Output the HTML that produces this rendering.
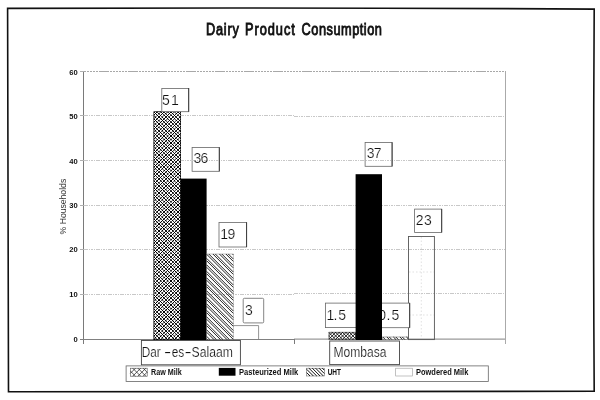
<!DOCTYPE html>
<html>
<head>
<meta charset="utf-8">
<title>Dairy Product Consumption</title>
<style>
html,body{margin:0;padding:0;background:#fff;}
body{width:600px;height:400px;overflow:hidden;}
svg{display:block;will-change:transform;}
text{font-family:"Liberation Sans",sans-serif;fill:#111;}
.t{font-size:15.6px;stroke:#111;stroke-width:0.85px;}
.tick{font-size:7.6px;font-weight:bold;fill:#222;}
.val{font-size:14px;fill:#111;stroke:#fff;stroke-width:0.2px;}
.cat{font-size:14px;fill:#111;stroke:#fff;stroke-width:0.2px;}
.leg{font-size:8.7px;font-weight:bold;fill:#222;}
.yl{font-size:8.4px;fill:#333;}
</style>
</head>
<body>
<svg width="600" height="400" viewBox="0 0 600 400">
<defs>
<filter id="thr" x="0" y="0" width="1" height="1" color-interpolation-filters="sRGB"><feComponentTransfer><feFuncR type="linear" slope="2.2" intercept="-0.55"/><feFuncG type="linear" slope="2.2" intercept="-0.55"/><feFuncB type="linear" slope="2.2" intercept="-0.55"/></feComponentTransfer></filter>
<clipPath id="c05"><rect x="382" y="300" width="40" height="30"/></clipPath>
</defs>
<rect width="600" height="400" fill="#fff"/>
<!-- outer frame -->
<path d="M7.6,8.4Q300,7.3 594.2,9.1Q593,200 594.2,391.3L8.5,391.8Z" fill="none" stroke="#111" stroke-width="1.6" stroke-linejoin="miter"/>
<!-- title -->
<text class="t" transform="translate(0,35) scale(0.82,1)"><tspan x="251.2" textLength="40.0" lengthAdjust="spacing">Dairy</tspan> <tspan x="298.8" textLength="60.7" lengthAdjust="spacing">Product</tspan> <tspan x="367.8" textLength="98.0" lengthAdjust="spacing">Consumption</tspan></text>
<!-- gridlines -->
<g stroke="#c8c8c8" stroke-width="1" stroke-dasharray="1.6 0.8" shape-rendering="crispEdges">
<line x1="84" x2="505" y1="71.5" y2="71.5" stroke="#a8a8a8" stroke-dasharray="2.2 0.7"/>
<line x1="84" x2="294" y1="115.5" y2="115.5"/>
<line x1="294" x2="505" y1="116.5" y2="116.5"/>
<line x1="84" x2="505" y1="160.5" y2="160.5"/>
<line x1="84" x2="505" y1="205.5" y2="205.5"/>
<line x1="84" x2="505" y1="249.5" y2="249.5"/>
<line x1="84" x2="294" y1="294.5" y2="294.5"/>
<line x1="294" x2="505" y1="293.5" y2="293.5"/>
</g>
<!-- axes -->
<g stroke="#7a7a7a" stroke-width="1" shape-rendering="crispEdges">
<line x1="83.5" x2="83.5" y1="71" y2="343.5"/>
<line x1="80" x2="294" y1="339.5" y2="339.5" stroke="#808080"/>
<line x1="294" x2="506" y1="339.1" y2="339.1" stroke="#808080" shape-rendering="auto"/>
<line x1="294.5" x2="294.5" y1="339" y2="343.5"/>
</g>
<g stroke="#aaa" stroke-width="1" shape-rendering="crispEdges">
<line x1="505.5" x2="505.5" y1="71" y2="343.5"/>
</g>
<g stroke="#b0b0b0" stroke-width="1" shape-rendering="crispEdges">
<line x1="80" x2="84" y1="71.5" y2="71.5"/>
<line x1="80" x2="84" y1="115.5" y2="115.5"/>
<line x1="80" x2="84" y1="160.5" y2="160.5"/>
<line x1="80" x2="84" y1="205.5" y2="205.5"/>
<line x1="80" x2="84" y1="249.5" y2="249.5"/>
<line x1="80" x2="84" y1="294.5" y2="294.5"/>
</g>
<!-- tick labels -->
<g class="tick" text-anchor="end">
<text x="77.8" y="74.6">60</text>
<text x="77.8" y="118.9">50</text>
<text x="77.8" y="163.5">40</text>
<text x="77.8" y="208.3">30</text>
<text x="77.8" y="252.3">20</text>
<text x="77.8" y="296.9">10</text>
<text x="77.8" y="342.3">0</text>
</g>
<!-- y label -->
<text class="yl" transform="translate(65.6,234.4) rotate(-90)" textLength="55.6" lengthAdjust="spacingAndGlyphs">% Households</text>
<!-- bars: Dar-es-Salaam -->
<g filter="url(#thr)"><rect x="153.9" y="111.8" width="26.9" height="227.9" fill="#fff" stroke="#222" stroke-width="0.7"/>
<path d="M153.9,336.2L157.3,339.7M153.9,332.8L160.8,339.7M153.9,329.4L164.2,339.7M153.9,325.9L167.7,339.7M153.9,322.5L171.1,339.7M153.9,319.0L174.6,339.7M153.9,315.6L178.0,339.7M153.9,312.1L180.8,339.0M153.9,308.7L180.8,335.6M153.9,305.2L180.8,332.1M153.9,301.8L180.8,328.7M153.9,298.3L180.8,325.2M153.9,294.9L180.8,321.8M153.9,291.4L180.8,318.3M153.9,288.0L180.8,314.9M153.9,284.5L180.8,311.4M153.9,281.1L180.8,308.0M153.9,277.6L180.8,304.5M153.9,274.2L180.8,301.1M153.9,270.7L180.8,297.6M153.9,267.3L180.8,294.2M153.9,263.8L180.8,290.7M153.9,260.4L180.8,287.3M153.9,256.9L180.8,283.8M153.9,253.5L180.8,280.4M153.9,250.0L180.8,276.9M153.9,246.6L180.8,273.5M153.9,243.1L180.8,270.0M153.9,239.7L180.8,266.6M153.9,236.2L180.8,263.1M153.9,232.8L180.8,259.7M153.9,229.3L180.8,256.2M153.9,225.9L180.8,252.8M153.9,222.4L180.8,249.3M153.9,219.0L180.8,245.9M153.9,215.5L180.8,242.4M153.9,212.1L180.8,239.0M153.9,208.6L180.8,235.5M153.9,205.2L180.8,232.1M153.9,201.7L180.8,228.6M153.9,198.3L180.8,225.2M153.9,194.8L180.8,221.7M153.9,191.4L180.8,218.3M153.9,187.9L180.8,214.8M153.9,184.5L180.8,211.4M153.9,181.0L180.8,207.9M153.9,177.6L180.8,204.5M153.9,174.1L180.8,201.0M153.9,170.7L180.8,197.6M153.9,167.2L180.8,194.1M153.9,163.8L180.8,190.7M153.9,160.3L180.8,187.2M153.9,156.9L180.8,183.8M153.9,153.4L180.8,180.3M153.9,150.0L180.8,176.9M153.9,146.5L180.8,173.4M153.9,143.1L180.8,170.0M153.9,139.6L180.8,166.5M153.9,136.2L180.8,163.1M153.9,132.7L180.8,159.6M153.9,129.3L180.8,156.2M153.9,125.8L180.8,152.7M153.9,122.4L180.8,149.3M153.9,118.9L180.8,145.8M153.9,115.5L180.8,142.4M153.9,112.0L180.8,138.9M157.1,111.8L180.8,135.5M160.6,111.8L180.8,132.0M164.0,111.8L180.8,128.6M167.5,111.8L180.8,125.1M170.9,111.8L180.8,121.7M174.4,111.8L180.8,118.2M177.8,111.8L180.8,114.8M157.3,111.8L153.9,115.2M160.8,111.8L153.9,118.7M164.2,111.8L153.9,122.1M167.7,111.8L153.9,125.6M171.1,111.8L153.9,129.0M174.6,111.8L153.9,132.5M178.0,111.8L153.9,135.9M180.8,112.5L153.9,139.4M180.8,115.9L153.9,142.8M180.8,119.4L153.9,146.3M180.8,122.8L153.9,149.7M180.8,126.3L153.9,153.2M180.8,129.7L153.9,156.6M180.8,133.2L153.9,160.1M180.8,136.6L153.9,163.5M180.8,140.1L153.9,167.0M180.8,143.5L153.9,170.4M180.8,147.0L153.9,173.9M180.8,150.4L153.9,177.3M180.8,153.9L153.9,180.8M180.8,157.3L153.9,184.2M180.8,160.8L153.9,187.7M180.8,164.2L153.9,191.1M180.8,167.7L153.9,194.6M180.8,171.1L153.9,198.0M180.8,174.6L153.9,201.5M180.8,178.0L153.9,204.9M180.8,181.5L153.9,208.4M180.8,184.9L153.9,211.8M180.8,188.4L153.9,215.3M180.8,191.8L153.9,218.7M180.8,195.3L153.9,222.2M180.8,198.7L153.9,225.6M180.8,202.2L153.9,229.1M180.8,205.6L153.9,232.5M180.8,209.1L153.9,236.0M180.8,212.5L153.9,239.4M180.8,216.0L153.9,242.9M180.8,219.4L153.9,246.3M180.8,222.9L153.9,249.8M180.8,226.3L153.9,253.2M180.8,229.8L153.9,256.7M180.8,233.2L153.9,260.1M180.8,236.7L153.9,263.6M180.8,240.1L153.9,267.0M180.8,243.6L153.9,270.5M180.8,247.0L153.9,273.9M180.8,250.5L153.9,277.4M180.8,253.9L153.9,280.8M180.8,257.4L153.9,284.3M180.8,260.8L153.9,287.7M180.8,264.3L153.9,291.2M180.8,267.7L153.9,294.6M180.8,271.2L153.9,298.1M180.8,274.6L153.9,301.5M180.8,278.1L153.9,305.0M180.8,281.5L153.9,308.4M180.8,285.0L153.9,311.9M180.8,288.4L153.9,315.3M180.8,291.9L153.9,318.8M180.8,295.3L153.9,322.2M180.8,298.8L153.9,325.7M180.8,302.2L153.9,329.1M180.8,305.7L153.9,332.6M180.8,309.1L153.9,336.0M180.8,312.6L153.9,339.5M180.8,316.0L157.1,339.7M180.8,319.5L160.6,339.7M180.8,322.9L164.0,339.7M180.8,326.4L167.5,339.7M180.8,329.8L170.9,339.7M180.8,333.3L174.4,339.7M180.8,336.7L177.8,339.7" stroke="#000" stroke-width="0.84" fill="none"/></g>
<rect x="180.6" y="178.6" width="26" height="161.4" fill="#000"/>
<rect x="206.6" y="254" width="26.6" height="85.7" fill="none" stroke="#888" stroke-width="0.5"/>
<path d="M206.6,338.7L207.6,339.7M206.6,332.2L214.1,339.7M206.6,325.7L220.6,339.7M206.6,319.2L227.1,339.7M206.6,312.7L233.2,339.3M206.6,306.2L233.2,332.8M206.6,299.7L233.2,326.3M206.6,293.2L233.2,319.8M206.6,286.7L233.2,313.3M206.6,280.2L233.2,306.8M206.6,273.7L233.2,300.3M206.6,267.2L233.2,293.8M206.6,260.7L233.2,287.3M206.6,254.2L233.2,280.8M212.9,254.0L233.2,274.3M219.4,254.0L233.2,267.8M225.9,254.0L233.2,261.3M232.4,254.0L233.2,254.8M206.6,336.3L210.0,339.7M206.6,329.8L216.5,339.7M206.6,323.3L223.0,339.7M206.6,316.8L229.5,339.7M206.6,310.3L233.2,336.9M206.6,303.8L233.2,330.4M206.6,297.3L233.2,323.9M206.6,290.8L233.2,317.4M206.6,284.3L233.2,310.9M206.6,277.8L233.2,304.4M206.6,271.3L233.2,297.9M206.6,264.8L233.2,291.4M206.6,258.3L233.2,284.9M208.8,254.0L233.2,278.4M215.3,254.0L233.2,271.9M221.8,254.0L233.2,265.4M228.3,254.0L233.2,258.9" stroke="#222" stroke-width="1.0" fill="none"/>
<path d="M233.2,325.6H258.6V339.5" fill="none" stroke="#777" stroke-width="0.8"/>
<!-- bars: Mombasa -->
<rect x="329" y="332.2" width="26.6" height="7.4" fill="#fff" stroke="#222" stroke-width="0.6"/>
<path d="M329.0,336.2L332.4,339.6M329.0,332.7L335.9,339.6M331.9,332.2L339.4,339.6M335.4,332.2L342.8,339.6M338.8,332.2L346.2,339.6M342.3,332.2L349.7,339.6M345.7,332.2L353.1,339.6M349.2,332.2L355.6,338.6M352.6,332.2L355.6,335.2M329.0,332.2L329.0,332.2M332.5,332.2L329.0,335.7M335.9,332.2L329.0,339.1M339.4,332.2L332.0,339.6M342.8,332.2L335.4,339.6M346.3,332.2L338.9,339.6M349.7,332.2L342.3,339.6M353.2,332.2L345.8,339.6M355.6,333.2L349.2,339.6M355.6,336.7L352.7,339.6" stroke="#000" stroke-width="0.84" fill="none"/>
<rect x="382" y="337" width="26" height="2.6" fill="#fff" stroke="#555" stroke-width="0.5"/>
<path d="M382.0,338.6L383.0,339.6M386.9,337.0L389.5,339.6M393.4,337.0L396.0,339.6M399.9,337.0L402.5,339.6M406.4,337.0L408.0,338.6M382.8,337.0L385.4,339.6M389.3,337.0L391.9,339.6M395.8,337.0L398.4,339.6M402.3,337.0L404.9,339.6" stroke="#222" stroke-width="1.0" fill="none"/>
<rect x="408.5" y="236.5" width="25.9" height="103.1" fill="none" stroke="#555" stroke-width="0.9"/>
<g stroke="#ccc" stroke-width="0.6" stroke-dasharray="1.5 2">
<line x1="421.3" x2="421.3" y1="237" y2="339"/>
<line x1="409" x2="434" y1="272" y2="272"/>
<line x1="409" x2="434" y1="315" y2="315"/>
</g>
<!-- value labels -->
<g fill="#fff" stroke="#666" stroke-width="0.8">
<rect x="161.8" y="88.4" width="26.9" height="23.3"/>
<rect x="192.1" y="147.5" width="27.2" height="23.8"/>
<rect x="219" y="222.4" width="27.6" height="24.6"/>
<rect x="243.2" y="298.3" width="20.5" height="24.6" rx="1.2"/>
<rect x="325.4" y="303.1" width="40" height="24.5"/>
<rect x="370" y="303.1" width="39.7" height="24.6"/>
<rect x="365.1" y="142.4" width="27" height="23.9"/>
<rect x="414.6" y="209.1" width="27.1" height="23.3"/>
</g>
<g stroke="#333" stroke-width="0.9">
<line x1="188.7" x2="188.7" y1="88" y2="111.7"/>
<line x1="219.3" x2="219.3" y1="147.3" y2="171.3"/>
<line x1="246.6" x2="246.6" y1="222.4" y2="247"/>
<line x1="409.7" x2="409.7" y1="303.1" y2="327.7"/>
<line x1="392.1" x2="392.1" y1="142.4" y2="166.3"/>
<line x1="441.7" x2="441.7" y1="209.1" y2="232.4"/>
</g>
<rect x="355.6" y="174.2" width="26.4" height="165.8" fill="#000"/>
<g stroke="#c8c8c8" stroke-width="1" stroke-dasharray="1.6 0.8" shape-rendering="crispEdges">
<line x1="192" x2="219" y1="160.5" y2="160.5"/>
<line x1="365.5" x2="392" y1="160.5" y2="160.5"/>
</g>
<g class="val">
<text x="162 171" y="104.5">51</text>
<text x="193.6 200.6" y="163">36</text>
<text x="220.3 227.5" y="238.6">19</text>
<text x="245" y="314.8">3</text>
<text x="326.6 333.4 338.2" y="319.6">1.5</text>
<text x="366.7 373.8" y="158.3">37</text>
<text x="415.7 424.1" y="225.1">23</text>
<text x="378.3 386.5 391.6" y="319.7" clip-path="url(#c05)">0.5</text>
</g>
<!-- category labels -->
<g fill="#fff" stroke="#444" stroke-width="0.9">
<rect x="141.4" y="340.5" width="99" height="24.3"/>
<rect x="329.7" y="341" width="69.8" height="23.6"/>
</g>
<text class="cat" y="357.4"><tspan x="141.8" textLength="19" lengthAdjust="spacingAndGlyphs">Dar</tspan><tspan x="164" textLength="7.2" lengthAdjust="spacingAndGlyphs">-</tspan><tspan x="171.7" textLength="12.5" lengthAdjust="spacingAndGlyphs">es</tspan><tspan x="184.6" textLength="7.2" lengthAdjust="spacingAndGlyphs">-</tspan><tspan x="191.6" textLength="41.4" lengthAdjust="spacingAndGlyphs">Salaam</tspan></text>
<text class="cat" x="333.4" y="357.4" textLength="53" lengthAdjust="spacingAndGlyphs">Mombasa</text>
<!-- legend -->
<rect x="126.1" y="365.9" width="362.2" height="15.5" fill="#fff" stroke="#666" stroke-width="0.8"/>
<rect x="130.3" y="368.2" width="16.9" height="8" fill="#fff" stroke="#555" stroke-width="0.6"/>
<path d="M130.3,371.0L135.5,376.2M132.7,368.2L140.7,376.2M137.9,368.2L145.9,376.2M143.1,368.2L147.2,372.3M135.5,368.2L130.3,373.4M140.7,368.2L132.7,376.2M145.9,368.2L137.9,376.2M147.2,372.1L143.1,376.2" stroke="#222" stroke-width="0.75" fill="none"/>
<rect x="218.8" y="367.9" width="16.7" height="7.8" fill="#000"/>
<rect x="306.7" y="368.2" width="17.6" height="7.8" fill="#fff" stroke="#555" stroke-width="0.5"/>
<path d="M306.7,372.6L310.0,376.0M306.7,369.3L313.4,376.0M308.9,368.2L316.8,376.0M312.3,368.2L320.1,376.0M315.6,368.2L323.4,376.0M319.0,368.2L324.3,373.5M322.3,368.2L324.3,370.2" stroke="#111" stroke-width="1.0" fill="none"/>
<rect x="395.7" y="368.2" width="16.6" height="7.8" fill="#fff" stroke="#999" stroke-width="0.6"/>
<g class="leg">
<text x="151" y="375" textLength="30.7" lengthAdjust="spacingAndGlyphs">Raw Milk</text>
<text x="239" y="375" textLength="59.2" lengthAdjust="spacingAndGlyphs">Pasteurized Milk</text>
<text x="327.7" y="375" textLength="13.3" lengthAdjust="spacingAndGlyphs">UHT</text>
<text x="416" y="375" textLength="52.3" lengthAdjust="spacingAndGlyphs">Powdered Milk</text>
</g>
</svg>
</body>
</html>
